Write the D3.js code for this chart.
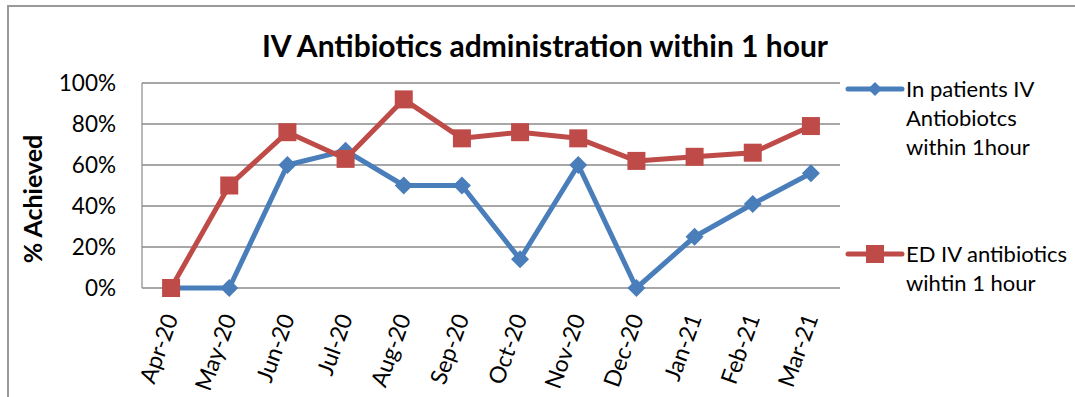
<!DOCTYPE html>
<html>
<head>
<meta charset="utf-8">
<script src="https://cdn.jsdelivr.net/npm/d3@7"></script>
<style>
  html, body { margin: 0; padding: 0; background: #fff; }
  svg { display: block; }
  text { font-family: Lato, "Open Sans", sans-serif; fill: #000; }
</style>
</head>
<body>
<svg id="chart" width="1075" height="397"></svg>
<script>
// Monthly compliance, April 2020 – March 2021
const months = ["Apr-20", "May-20", "Jun-20", "Jul-20", "Aug-20", "Sep-20",
                "Oct-20", "Nov-20", "Dec-20", "Jan-21", "Feb-21", "Mar-21"];
const inpatientValues = [0, 0, 60, 67, 50, 50, 14, 60, 0, 25, 41, 56];
const edValues = [0, 50, 76, 63, 92, 73, 76, 73, 62, 64, 66, 79];
const yTicks = [0, 20, 40, 60, 80, 100];
const seriesNames = [
  ["In patients IV", "Antiobiotcs", "within 1hour"],
  ["ED IV antibiotics", "wihtin 1 hour"]
];
const chartTitle = "IV Antibiotics administration within 1 hour";
const yTitle = "% Achieved";

const svg = d3.select("#chart");
const plot = { left: 142, right: 840, top: 83, bottom: 288 };
const blue = "#4a7ebb", red = "#be4b48", gridColor = "#8a8a8a";

// outer chart frame
svg.append("path")
  .attr("d", "M8,397 V6 H1075")
  .attr("fill", "none").attr("stroke", "#9a9a9a").attr("stroke-width", 2);

const x = d3.scaleBand().domain(months).range([plot.left, plot.right]).padding(0);
const y = d3.scaleLinear().domain([0, 100]).range([plot.bottom, plot.top]);
const cx = d => x(d) + x.bandwidth() / 2;

// horizontal gridlines
svg.append("g").selectAll("line").data(yTicks).join("line")
  .attr("x1", plot.left).attr("x2", plot.right)
  .attr("y1", d => y(d)).attr("y2", d => y(d))
  .attr("stroke", gridColor).attr("stroke-width", 1.5);

// vertical axis line
svg.append("line")
  .attr("x1", plot.left).attr("x2", plot.left)
  .attr("y1", plot.top).attr("y2", plot.bottom)
  .attr("stroke", gridColor).attr("stroke-width", 1.2);

// y tick labels
const yAxis = d3.axisLeft(y).tickValues(yTicks).tickFormat(d => d + "%").tickSize(0).tickPadding(26);
const gy = svg.append("g").attr("transform", `translate(${plot.left},0)`).call(yAxis);
gy.select(".domain").remove();
gy.selectAll("text").attr("font-size", 22.5).attr("font-family", "Lato, sans-serif").attr("fill", "#000");

// x tick labels, rotated
const xAxis = d3.axisBottom(x).tickSize(0).tickPadding(0);
const gx = svg.append("g").attr("transform", `translate(0,${plot.bottom})`).call(xAxis);
gx.select(".domain").remove();
gx.selectAll("text")
  .attr("font-size", 23).attr("font-family", "Lato, sans-serif").attr("fill", "#000")
  .attr("text-anchor", "end")
  .attr("x", 0).attr("y", 0).attr("dy", "0.35em")
  .attr("transform", "translate(0,27) rotate(-70)");

// y axis title
svg.append("text")
  .attr("transform", "translate(42,199) rotate(-90)")
  .attr("text-anchor", "middle")
  .attr("font-size", 25).attr("font-weight", "bold")
  .text(yTitle);

// chart title
svg.append("text")
  .attr("x", 545).attr("y", 57)
  .attr("text-anchor", "middle")
  .attr("font-size", 30).attr("font-weight", "bold")
  .text(chartTitle);

const line = d3.line().x((d, i) => cx(months[i])).y(d => y(d));
const diamondPath = (s) => `M0,${-s} L${s},0 L0,${s} L${-s},0 Z`;

// inpatient series (blue, diamonds)
svg.append("path").datum(inpatientValues)
  .attr("d", line).attr("fill", "none")
  .attr("stroke", blue).attr("stroke-width", 5).attr("stroke-linejoin", "round");
svg.append("g").selectAll("path").data(inpatientValues).join("path")
  .attr("d", diamondPath(9))
  .attr("transform", (d, i) => `translate(${cx(months[i])},${y(d)})`)
  .attr("fill", blue);

// ED series (red, squares)
svg.append("path").datum(edValues)
  .attr("d", line).attr("fill", "none")
  .attr("stroke", red).attr("stroke-width", 5).attr("stroke-linejoin", "round");
svg.append("g").selectAll("rect").data(edValues).join("rect")
  .attr("x", (d, i) => cx(months[i]) - 9).attr("y", d => y(d) - 9)
  .attr("width", 18).attr("height", 18)
  .attr("fill", red);

// legend
const legend = svg.append("g");
const legendItems = [
  { color: blue, marker: "diamond", y: 89, lines: seriesNames[0] },
  { color: red, marker: "square", y: 254, lines: seriesNames[1] }
];
legendItems.forEach(item => {
  legend.append("line")
    .attr("x1", 848).attr("x2", 902).attr("y1", item.y).attr("y2", item.y)
    .attr("stroke", item.color).attr("stroke-width", 5).attr("stroke-linecap", "round");
  if (item.marker === "diamond") {
    legend.append("path").attr("d", diamondPath(7))
      .attr("transform", `translate(875,${item.y})`).attr("fill", item.color);
  } else {
    legend.append("rect").attr("x", 866).attr("y", item.y - 9)
      .attr("width", 18).attr("height", 18).attr("fill", item.color);
  }
  const t = legend.append("text").attr("x", 906).attr("y", item.y).attr("font-size", 22);
  item.lines.forEach((s, i) => {
    t.append("tspan").attr("x", 906).attr("y", item.y + i * 29).attr("dy", "0.35em").text(s);
  });
});
</script>
</body>
</html>
